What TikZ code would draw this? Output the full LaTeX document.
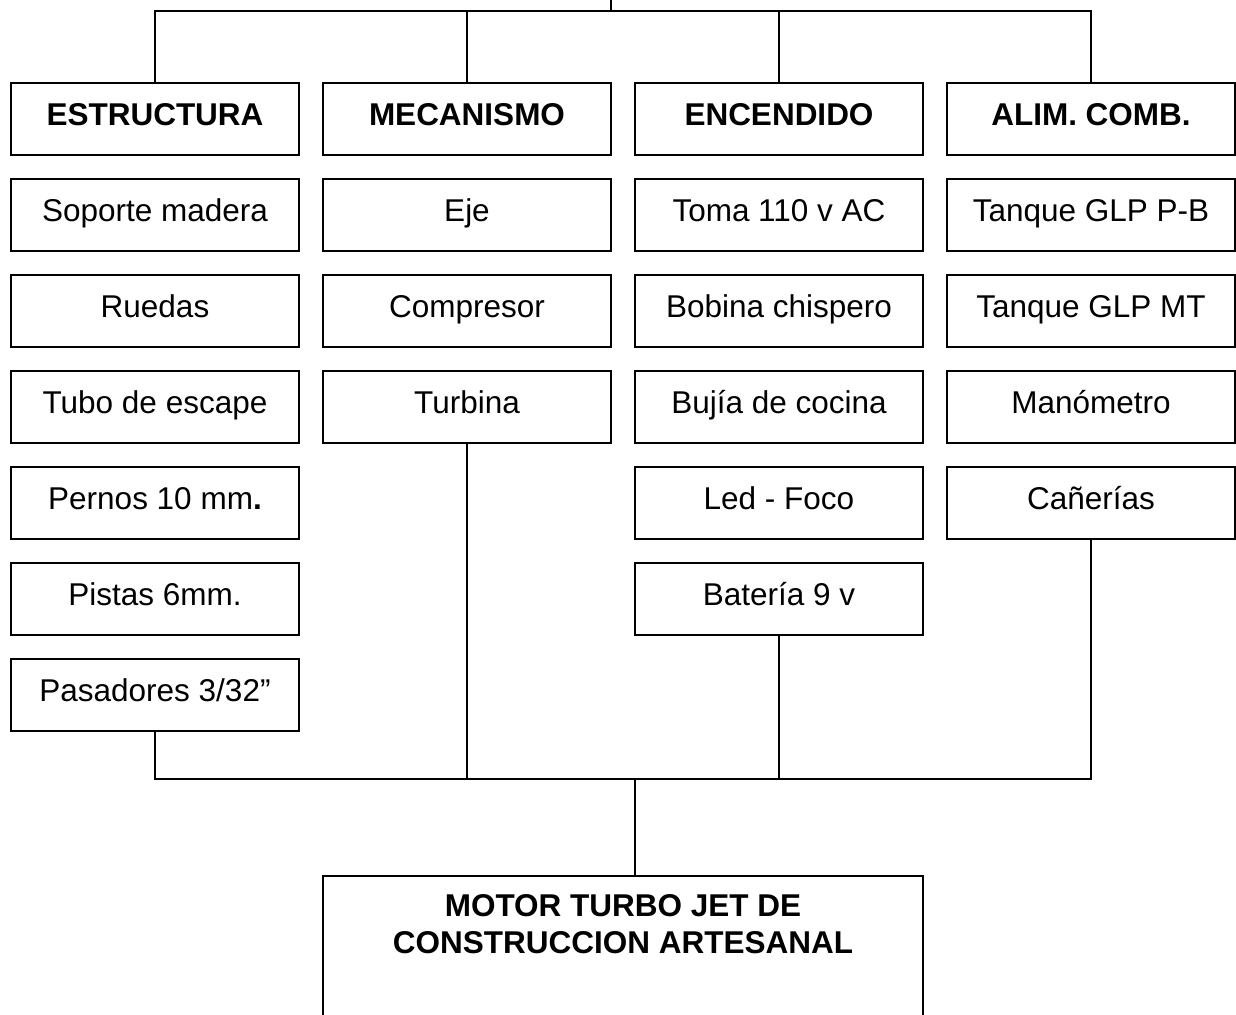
\documentclass[tikz,border=0pt]{standalone}
\usepackage{fontspec}
\setmainfont{Liberation Sans}
\tikzset{
    ch box/.style={draw=black, line width=1pt, minimum width=144pt,
                   minimum height=36pt, inner sep=0pt,
                   text height=11.3pt, text depth=5pt,
                   font=\fontsize{15.75}{18.5}\selectfont},
    ch head/.style={ch box, font=\fontsize{15.75}{18.5}\selectfont\bfseries},
    ch main/.style={draw=black, line width=1pt, minimum width=300pt,
                    anchor=north, inner sep=0pt, align=center,
                    text height=38.5pt, text depth=110pt,
                    font=\fontsize{15.75}{18.5}\selectfont\bfseries},
    ch link/.style={line width=1pt, black},
}
\begin{document}
\begin{tikzpicture}[x=0.5pt, y=-0.5pt]
    \useasboundingbox (0, 0) rectangle (1236, 1015);
    \clip (0, 0) rectangle (1236, 1015);
    % Headers
    \node[ch head] (es0) at (155, 119) {ESTRUCTURA};
    \node[ch head] (me0) at (467, 119) {MECANISMO};
    \node[ch head] (en0) at (779, 119) {ENCENDIDO};
    \node[ch head] (al0) at (1091, 119) {ALIM. COMB.};
    % Estructura
    \node[ch box] (es1) at (155, 215) {Soporte madera};
    \node[ch box] (es2) at (155, 311) {Ruedas};
    \node[ch box] (es3) at (155, 407) {Tubo de escape};
    \node[ch box] (es4) at (155, 503) {Pernos 10 mm\textbf{.}};
    \node[ch box] (es5) at (155, 599) {Pistas 6mm.};
    \node[ch box] (es6) at (155, 695) {Pasadores 3/32”};
    % Mecanismo
    \node[ch box] (me1) at (467, 215) {Eje};
    \node[ch box] (me2) at (467, 311) {Compresor};
    \node[ch box] (me3) at (467, 407) {Turbina};
    % Encendido
    \node[ch box] (en1) at (779, 215) {Toma 110 v AC};
    \node[ch box] (en2) at (779, 311) {Bobina chispero};
    \node[ch box] (en3) at (779, 407) {Bujía de cocina};
    \node[ch box] (en4) at (779, 503) {Led - Foco};
    \node[ch box] (en5) at (779, 599) {Batería 9 v};
    % Alimentacion
    \node[ch box] (al1) at (1091, 215) {Tanque GLP P-B};
    \node[ch box] (al2) at (1091, 311) {Tanque GLP MT};
    \node[ch box] (al3) at (1091, 407) {Manómetro};
    \node[ch box] (al4) at (1091, 503) {Cañerías};
    % Motor
    \node[ch main] (mt) at (623, 875)
        {MOTOR TURBO JET DE\\CONSTRUCCION ARTESANAL};
    % Top bus
    \coordinate (top) at (611, -5);
    \coordinate (tbus) at (611, 11);
    \draw[ch link] (top) -- (tbus);
    \draw[ch link] (es0.north) |- (tbus) -| (al0.north);
    \draw[ch link] (me0.north) -- (me0.north |- tbus);
    \draw[ch link] (en0.north) -- (en0.north |- tbus);
    % Bottom bus
    \coordinate (bbus) at (635, 779);
    \draw[ch link] (es6.south) |- (bbus) -| (al4.south);
    \draw[ch link] (me3.south) -- (me3.south |- bbus);
    \draw[ch link] (en5.south) -- (en5.south |- bbus);
    \draw[ch link] (bbus) -- (bbus |- mt.north);
\end{tikzpicture}
\end{document}
